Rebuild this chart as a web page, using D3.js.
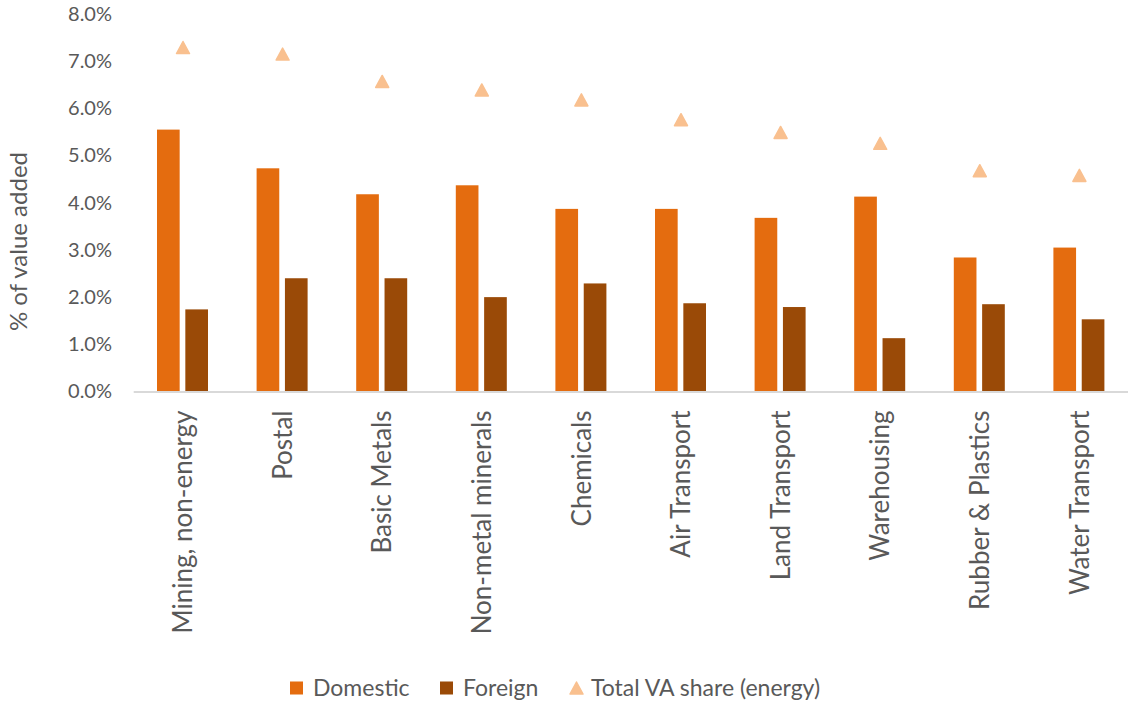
<!DOCTYPE html>
<html>
<head>
<meta charset="utf-8">
<script src="https://cdn.jsdelivr.net/npm/d3@7"></script>
<style>
  html, body { margin: 0; padding: 0; background: #fff; }
  svg { display: block; font-family: Lato, "Open Sans", sans-serif; }
</style>
</head>
<body>
<svg id="chart" width="1128" height="703"></svg>
<script>
// Sectors, ordered by total value-added share of energy
const categories = [
  "Mining, non-energy", "Postal", "Basic Metals", "Non-metal minerals", "Chemicals",
  "Air Transport", "Land Transport", "Warehousing", "Rubber & Plastics", "Water Transport"
];
// Shares of value added (%)
const domestic = [5.55, 4.73, 4.18, 4.37, 3.87, 3.87, 3.68, 4.13, 2.84, 3.05];
const foreign  = [1.74, 2.40, 2.40, 2.00, 2.29, 1.87, 1.79, 1.13, 1.85, 1.53];
const totalVA  = [7.29, 7.15, 6.57, 6.39, 6.18, 5.76, 5.49, 5.26, 4.68, 4.58];

const seriesNames = ["Domestic", "Foreign"];
const legendNames = ["Domestic", "Foreign", "Total VA share (energy)"];
const yTicks = [0, 1, 2, 3, 4, 5, 6, 7, 8];

const colors = { Domestic: "#E46C0F", Foreign: "#9A4A07", Total: "#F9C08F" };
const textColor = "#595959";

const svg = d3.select("#chart");

const plot = { left: 133.2, right: 1129.2, top: 14, bottom: 391.5 };

const y = d3.scaleLinear().domain([0, 8]).range([plot.bottom, plot.top]);
const x0 = d3.scaleBand().domain(categories).range([plot.left, plot.right]).padding(0);
const groupWidth = 51;
const x1 = d3.scaleBand().domain(seriesNames).range([0, groupWidth]).paddingInner(0.2);

const rows = categories.map((c, i) => ({
  category: c,
  values: [
    { key: "Domestic", value: domestic[i] },
    { key: "Foreign", value: foreign[i] }
  ],
  total: totalVA[i]
}));

// Y axis tick labels (no gridlines)
const yAxis = d3.axisLeft(y)
  .tickValues(yTicks)
  .tickFormat(d => d.toFixed(1) + "%")
  .tickSize(0)
  .tickPadding(0);

const yG = svg.append("g")
  .attr("transform", "translate(112,0)")
  .call(yAxis);
yG.select(".domain").remove();
yG.selectAll("text")
  .attr("fill", textColor)
  .attr("font-size", 20)
  .attr("font-family", "Lato, sans-serif");

// Y axis title
svg.append("text")
  .attr("transform", "translate(17,241.5) rotate(-90)")
  .attr("text-anchor", "middle")
  .attr("dominant-baseline", "central")
  .attr("fill", textColor)
  .attr("font-size", 24)
  .text("% of value added");

// Bars
const groups = svg.append("g").selectAll("g")
  .data(rows)
  .join("g")
  .attr("transform", d => `translate(${x0(d.category) + (x0.bandwidth() - groupWidth) / 2 - 0.5},0)`);

groups.selectAll("rect")
  .data(d => d.values)
  .join("rect")
  .attr("x", d => x1(d.key))
  .attr("y", d => y(d.value))
  .attr("width", x1.bandwidth())
  .attr("height", d => y(0) - y(d.value))
  .attr("fill", d => colors[d.key]);

// Category axis
const xAxis = d3.axisBottom(x0).tickSize(0).tickPadding(0);
const xG = svg.append("g")
  .attr("transform", `translate(0,${plot.bottom})`)
  .call(xAxis);
xG.select(".domain")
  .attr("stroke", "#D9D9D9")
  .attr("stroke-width", 2);
xG.selectAll(".tick text")
  .attr("transform", "rotate(-90)")
  .attr("x", -19)
  .attr("y", 0)
  .attr("dy", "0.35em")
  .attr("text-anchor", "end")
  .attr("fill", textColor)
  .attr("font-size", 26)
  .attr("font-family", "Lato, sans-serif");

// Triangle markers for total VA share
function trianglePath(w, h) {
  return `M0,${-h / 2}L${w / 2},${h / 2}L${-w / 2},${h / 2}Z`;
}
svg.append("g").selectAll("path")
  .data(rows)
  .join("path")
  .attr("transform", d => `translate(${x0(d.category) + x0.bandwidth() / 2},${y(d.total)})`)
  .attr("d", trianglePath(13, 12))
  .attr("fill", colors.Total)
  .attr("stroke", colors.Total)
  .attr("stroke-width", 1.5)
  .attr("stroke-linejoin", "round");

// Legend
const legendY = 688;
const legendItems = [
  { name: legendNames[0], x: 290, shape: "square", color: colors.Domestic },
  { name: legendNames[1], x: 440, shape: "square", color: colors.Foreign },
  { name: legendNames[2], x: 569, shape: "triangle", color: colors.Total }
];
const lg = svg.append("g").selectAll("g")
  .data(legendItems)
  .join("g")
  .attr("transform", d => `translate(${d.x},${legendY})`);

lg.filter(d => d.shape === "square").append("rect")
  .attr("x", 0).attr("y", -6.5)
  .attr("width", 13).attr("height", 13)
  .attr("fill", d => d.color);

lg.filter(d => d.shape === "triangle").append("path")
  .attr("transform", "translate(7.5,0)")
  .attr("d", trianglePath(13, 12))
  .attr("fill", d => d.color)
  .attr("stroke", d => d.color)
  .attr("stroke-width", 1.5)
  .attr("stroke-linejoin", "round");

lg.append("text")
  .attr("x", d => d.shape === "square" ? 23 : 22)
  .attr("y", 0)
  .attr("dy", "0.35em")
  .attr("fill", textColor)
  .attr("font-size", 23)
  .text(d => d.name);
</script>
</body>
</html>
